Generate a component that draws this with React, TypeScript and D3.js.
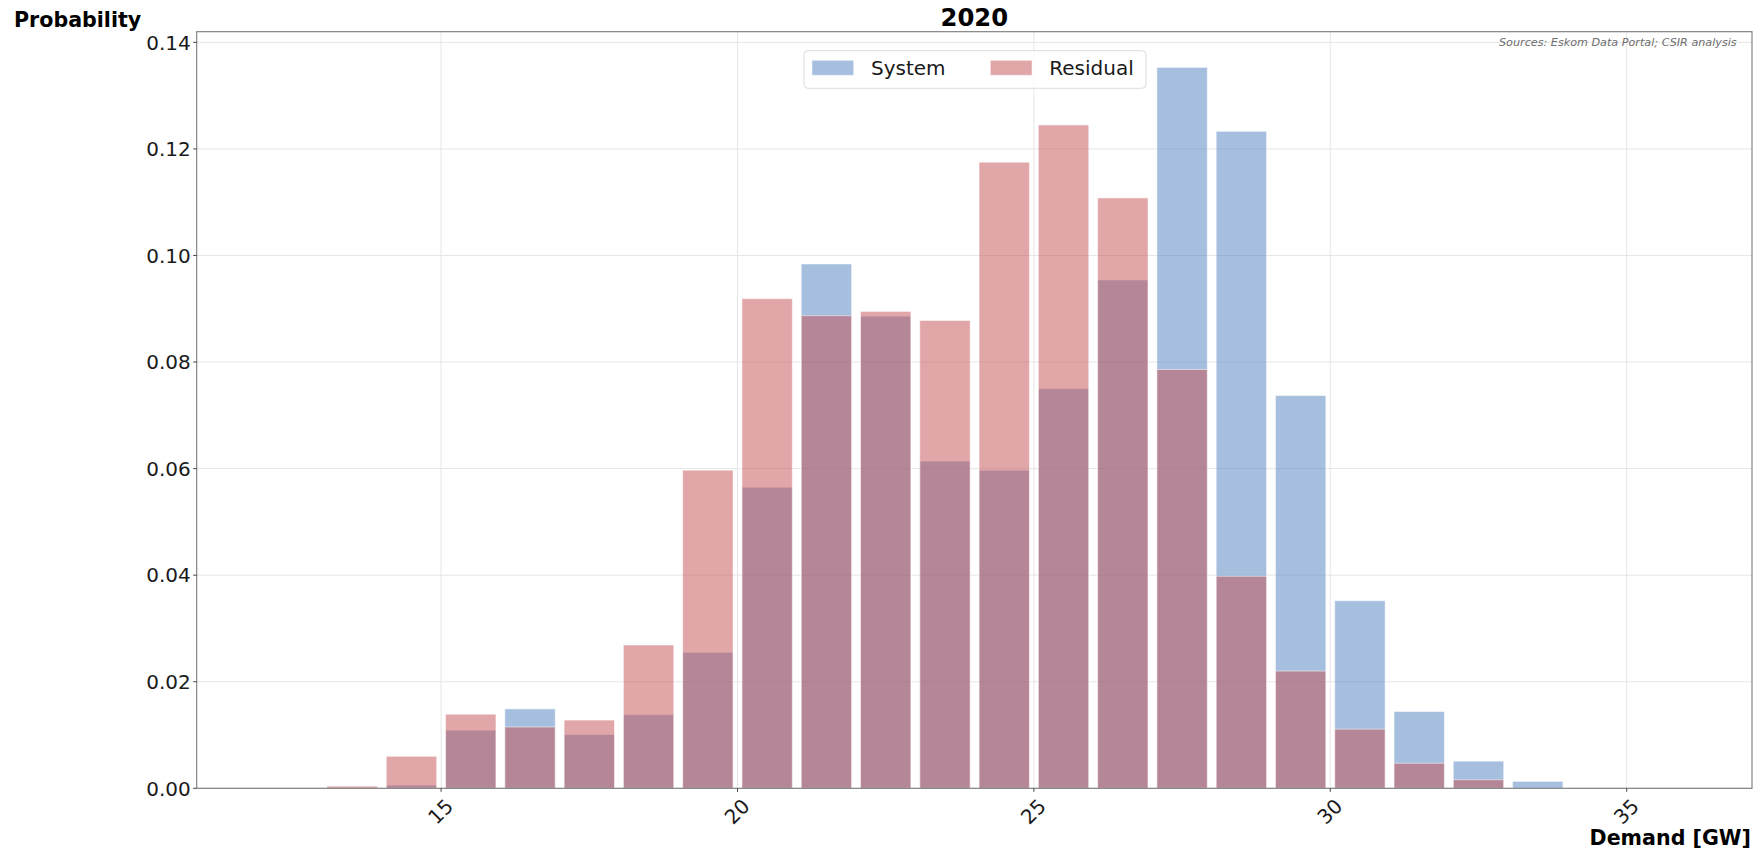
import React from "react";
import * as d3 from "d3";

// Bin left edges (GW), 1 GW wide bins
const binStarts = [13, 14, 15, 16, 17, 18, 19, 20, 21, 22, 23, 24, 25, 26, 27, 28, 29, 30, 31, 32, 33];
const systemValues = [0.0, 0.0006, 0.0109, 0.0149, 0.0101, 0.0138, 0.0255, 0.0565, 0.0984, 0.0886, 0.0614, 0.0597, 0.075, 0.0954, 0.1353, 0.1233, 0.0737, 0.0352, 0.0144, 0.0051, 0.0013];
const residualValues = [0.0004, 0.006, 0.0139, 0.0115, 0.0128, 0.0269, 0.0597, 0.0919, 0.0887, 0.0895, 0.0878, 0.1175, 0.1245, 0.1108, 0.0786, 0.0398, 0.022, 0.0111, 0.0047, 0.0016, 0.0];
const xTicks = [15, 20, 25, 30, 35];
const yTicks = [0, 0.02, 0.04, 0.06, 0.08, 0.1, 0.12, 0.14];
const seriesNames = ["System", "Residual"];
const seriesColors = ["#4E7FBD", "#C44E52"];

const W = 1761;
const H = 851;
const L = 196.7, R = 1752, T = 31.7, B = 788.3;
const FONT = "'DejaVu Sans', sans-serif";

export default function App() {
  const x = d3.scaleLinear().domain([10.877, 37.114]).range([L, R]);
  const y = d3.scaleLinear().domain([0, 0.142]).range([B, T]);
  const rwidth = 0.85;
  const series = [systemValues, residualValues];

  return (
    <svg width={W} height={H} style={{ position: "absolute", left: 0, top: 0, display: "block", background: "#fff" }} fontFamily={FONT}>
      <rect x={0} y={0} width={W} height={H} fill="#fff" />
      {/* grid */}
      <g stroke="#e6e6e6" strokeWidth={1}>
        {yTicks.map((t) => (
          <line key={"gy" + t} x1={L} x2={R} y1={y(t)} y2={y(t)} />
        ))}
        {xTicks.map((t) => (
          <line key={"gx" + t} x1={x(t)} x2={x(t)} y1={T} y2={B} />
        ))}
      </g>
      {/* bars */}
      {series.map((vals, si) => (
        <g key={"s" + si}>
          {vals.map((v, i) => {
            if (v <= 0) return null;
            const x0 = binStarts[i] + (1 - rwidth) / 2;
            const x1 = x0 + rwidth;
            return (
              <rect
                key={i}
                x={x(x0)}
                width={x(x1) - x(x0)}
                y={y(v)}
                height={y(0) - y(v)}
                fill={seriesColors[si]}
                fillOpacity={0.5}
                stroke="#fff"
                strokeOpacity={0.5}
                strokeWidth={1}
              />
            );
          })}
        </g>
      ))}
      {/* spines */}
      <rect x={L} y={T} width={R - L} height={B - T} fill="none" stroke="#7a7a7a" strokeWidth={1.1} />
      {/* y ticks */}
      {yTicks.map((t) => (
        <g key={"yt" + t}>
          <line x1={L - 3.5} x2={L} y1={y(t)} y2={y(t)} stroke="#444" strokeWidth={1} />
          <text x={L - 6} y={y(t) + 7.2} textAnchor="end" fontSize={20} fill="#1a1a1a">
            {t.toFixed(2)}
          </text>
        </g>
      ))}
      {/* x ticks */}
      {xTicks.map((t) => (
        <g key={"xt" + t}>
          <line x1={x(t)} x2={x(t)} y1={B} y2={B + 3.5} stroke="#444" strokeWidth={1} />
          <text
            transform={`translate(${x(t) - 0.5},${811.5}) rotate(-45)`}
            textAnchor="middle"
            dy="0.35em"
            fontSize={20}
            fill="#1a1a1a"
          >
            {t}
          </text>
        </g>
      ))}
      {/* title & labels */}
      <text x={(L + R) / 2} y={26} textAnchor="middle" fontSize={24.3} fontWeight="bold" fill="#000">
        2020
      </text>
      <text x={14} y={26.7} fontSize={20.6} fontWeight="bold" fill="#000">
        Probability
      </text>
      <text x={1751} y={845} textAnchor="end" fontSize={20.6} fontWeight="bold" fill="#000">
        Demand [GW]
      </text>
      <text x={1736.7} y={46} textAnchor="end" fontSize={11.2} fontStyle="italic" fill="#6e6e6e">
        Sources: Eskom Data Portal; CSIR analysis
      </text>
      {/* legend */}
      <g>
        <rect x={804} y={50.7} width={342} height={37.6} rx={4} fill="#fff" fillOpacity={0.8} stroke="#dcdcdc" strokeWidth={1} />
        {seriesNames.map((n, i) => {
          const px = i === 0 ? 812 : 990.3;
          return (
            <g key={n}>
              <rect x={px} y={60.3} width={41.7} height={15} fill={seriesColors[i]} fillOpacity={0.5} stroke="#fff" strokeOpacity={0.5} />
              <text x={px + 59} y={74.5} fontSize={20} fill="#1a1a1a">
                {n}
              </text>
            </g>
          );
        })}
      </g>
    </svg>
  );
}
